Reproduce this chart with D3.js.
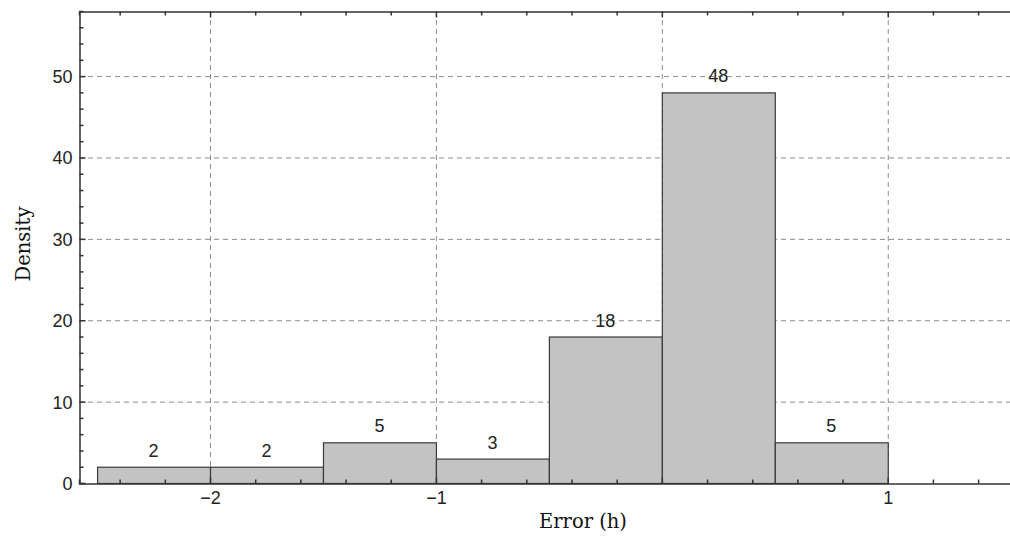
<!DOCTYPE html>
<html>
<head>
<meta charset="utf-8">
<script src="https://cdn.jsdelivr.net/npm/d3@7"></script>
<style>
  body { margin: 0; background: #fff; }
  svg { display: block; }
</style>
</head>
<body>
<svg id="chart" width="1010" height="537"></svg>
<script>
// histogram bins (left edge, width 0.5) and counts
const binStarts = [-2.5, -2, -1.5, -1, -0.5, 0, 0.5];
const binWidth = 0.5;
const counts = [2, 2, 5, 3, 18, 48, 5];

const xTickLabels = [-2, -1, 1];
const xGrid = [-2, -1, 0, 1];
const yTicks = [0, 10, 20, 30, 40, 50];

const svg = d3.select('#chart');

const x = d3.scaleLinear().domain([-2.58, 1.55]).range([79, 1012]);
const y = d3.scaleLinear().domain([0, 58]).range([483, 11]);

const axisColor = '#333';
const gridColor = '#8c8c8c';
const labelFont = 'Liberation Sans, Arial, sans-serif';
const titleFont = 'DejaVu Serif, serif';

// grid lines
const grid = svg.append('g').attr('class', 'grid');
grid.selectAll('line.h')
  .data(yTicks.filter(d => d > 0))
  .enter().append('line')
  .attr('x1', x.range()[0]).attr('x2', x.range()[1])
  .attr('y1', d => y(d) + 0.5).attr('y2', d => y(d) + 0.5)
  .attr('stroke', gridColor).attr('stroke-dasharray', '5,4');
grid.selectAll('line.v')
  .data(xGrid)
  .enter().append('line')
  .attr('x1', d => x(d) + 0.5).attr('x2', d => x(d) + 0.5)
  .attr('y1', y.range()[1]).attr('y2', y(0))
  .attr('stroke', gridColor).attr('stroke-dasharray', '5,4');

// bars
const bars = svg.append('g').attr('class', 'bars');
bars.selectAll('rect')
  .data(binStarts)
  .enter().append('rect')
  .attr('x', d => x(d) + 0.5)
  .attr('y', (d, i) => y(counts[i]) + 0.5)
  .attr('width', d => x(d + binWidth) - x(d))
  .attr('height', (d, i) => y(0) - y(counts[i]))
  .attr('fill', '#c3c3c3')
  .attr('stroke', '#3a3a3a')
  .attr('stroke-width', 1.2);

bars.selectAll('text')
  .data(binStarts)
  .enter().append('text')
  .attr('x', d => x(d + binWidth / 2))
  .attr('y', (d, i) => y(counts[i]) - 10)
  .attr('text-anchor', 'middle')
  .attr('font-family', labelFont)
  .attr('font-size', 18)
  .attr('fill', '#222')
  .text((d, i) => counts[i]);

// minor ticks every 0.2 on x, every 2 on y
const xMinor = d3.range(-2.4, 1.6, 0.2).map(v => Math.round(v * 10) / 10);
const yMinor = d3.range(2, 58, 2);

// bottom axis (ticks point up into the plot)
const axBottom = svg.append('g').attr('transform', `translate(0,${y(0) + 0.5})`);
axBottom.call(d3.axisBottom(x).tickValues(xMinor).tickSize(-4).tickFormat(''));
axBottom.select('.domain').attr('stroke', axisColor).attr('stroke-width', 1.5);
axBottom.selectAll('.tick line').attr('stroke', axisColor).attr('stroke-width', 1.5)
  .attr('y2', d => Math.abs(d % 1) < 1e-6 ? -6 : -4);
axBottom.selectAll('.tick').filter(d => xTickLabels.includes(d)).append('text')
  .attr('y', 20)
  .attr('text-anchor', 'middle')
  .attr('font-family', labelFont)
  .attr('font-size', 18)
  .attr('fill', '#222')
  .text(d => d < 0 ? '\u2212' + Math.abs(d) : d);

// top axis, no labels
const axTop = svg.append('g').attr('transform', `translate(0,${y.range()[1] + 0.5})`);
axTop.call(d3.axisTop(x).tickValues(xMinor).tickSize(-4).tickFormat(''));
axTop.select('.domain').attr('stroke', axisColor).attr('stroke-width', 1.5);
axTop.selectAll('.tick line').attr('stroke', axisColor).attr('stroke-width', 1.5)
  .attr('y2', d => Math.abs(d % 1) < 1e-6 ? 6 : 4);

// left axis (ticks point right)
const axLeft = svg.append('g').attr('transform', `translate(${x.range()[0] + 0.5},0)`);
axLeft.call(d3.axisLeft(y).tickValues(yMinor.concat([0])).tickSize(-4).tickFormat(''));
axLeft.select('.domain').attr('stroke', axisColor).attr('stroke-width', 1.5);
axLeft.selectAll('.tick line').attr('stroke', axisColor).attr('stroke-width', 1.5)
  .attr('x2', d => d % 10 === 0 ? 6 : 4);
axLeft.selectAll('.tick').filter(d => yTicks.includes(d)).append('text')
  .attr('x', -7)
  .attr('dy', '0.36em')
  .attr('text-anchor', 'end')
  .attr('font-family', labelFont)
  .attr('font-size', 18)
  .attr('fill', '#222')
  .text(d => d);

// axis titles
svg.append('text')
  .attr('x', 583)
  .attr('y', 528)
  .attr('text-anchor', 'middle')
  .attr('font-family', titleFont)
  .attr('font-size', 19.5)
  .attr('fill', '#111')
  .text('Error (h)');

svg.append('text')
  .attr('transform', 'translate(30,244) rotate(-90)')
  .attr('text-anchor', 'middle')
  .attr('font-family', titleFont)
  .attr('font-size', 19.5)
  .attr('fill', '#111')
  .text('Density');
</script>
</body>
</html>
